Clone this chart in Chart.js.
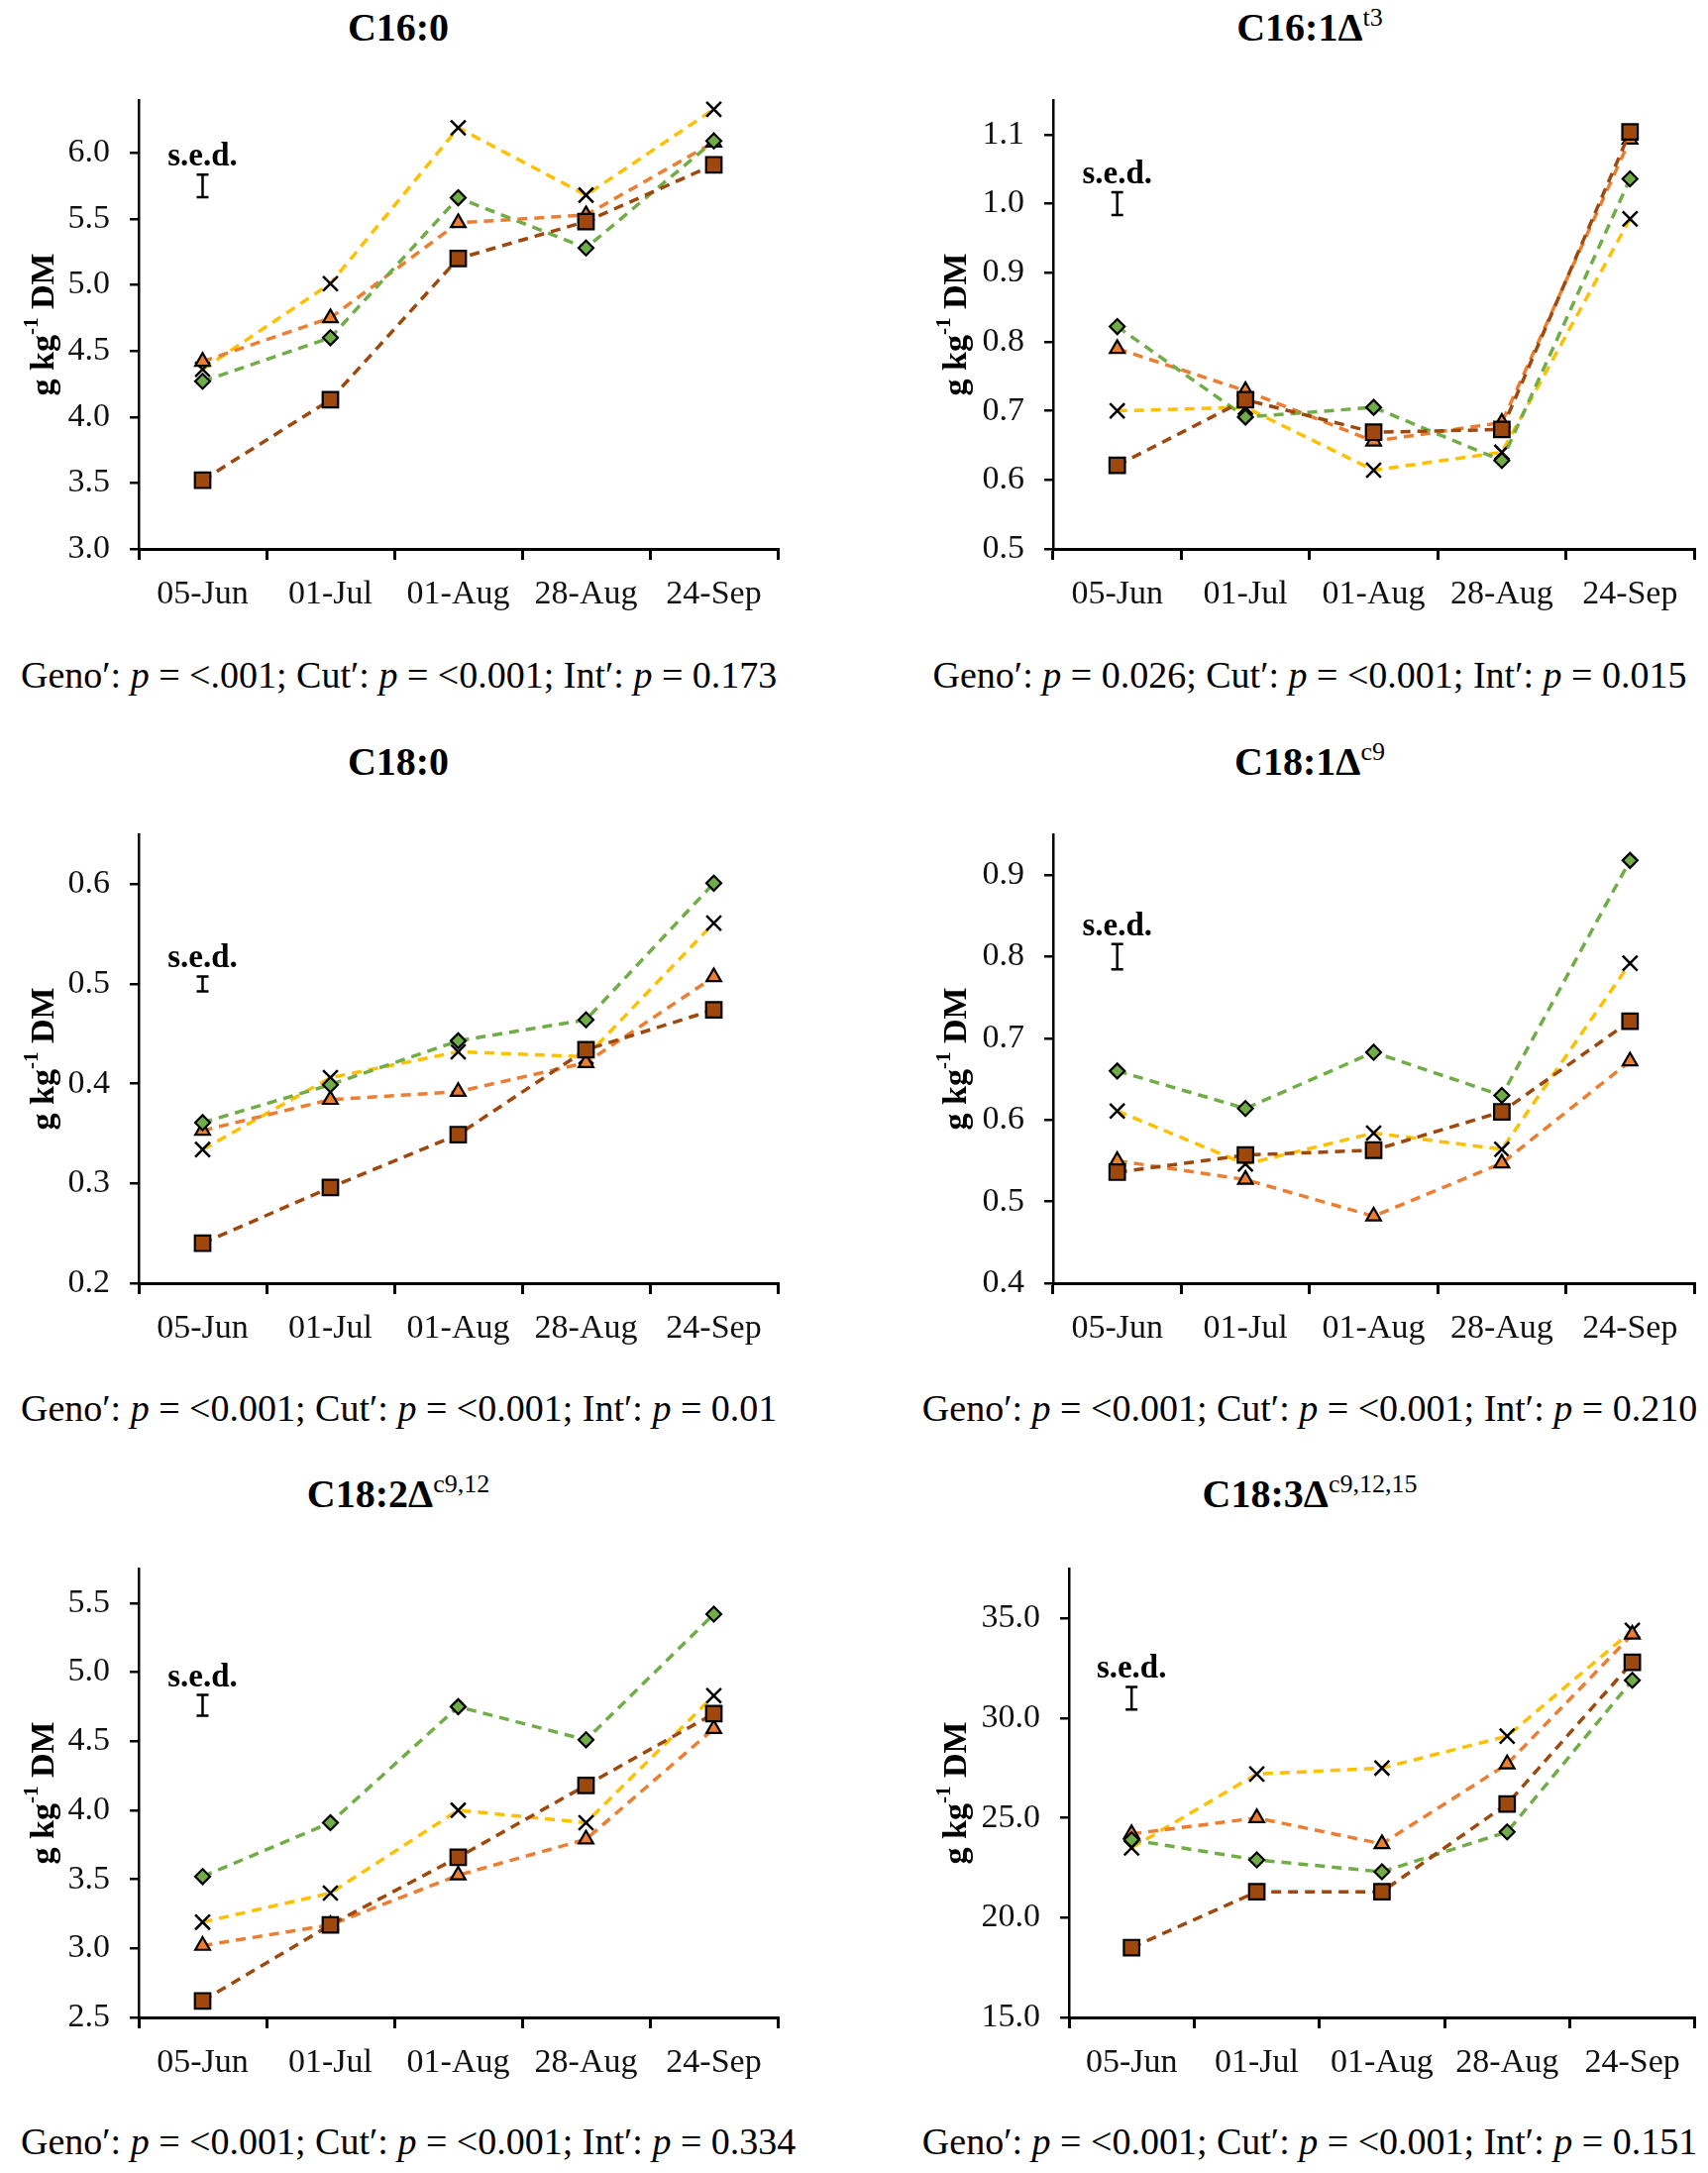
<!DOCTYPE html>
<html>
<head>
<meta charset="utf-8">
<script src="https://cdn.jsdelivr.net/npm/chart.js@4.4.1/dist/chart.umd.min.js"></script>
<style>
html,body{margin:0;padding:0;background:#fff;}
#page{position:relative;width:1724px;height:2193px;overflow:hidden;font-family:'Liberation Serif','Times New Roman',serif;color:#000;}
#page canvas{position:absolute;}
.ttl{position:absolute;transform:translate(-50%,-50%);font-weight:bold;font-size:40px;line-height:1;white-space:nowrap;}
.ttl sup{font-weight:normal;font-size:26px;vertical-align:0;position:relative;top:-15px;}
.stat{position:absolute;font-size:38px;line-height:1;white-space:nowrap;transform:translateY(-50%);}
.stat.ctr{transform:translate(-50%,-50%);}
</style>
</head>
<body>
<div id="page"></div>
<script>
const FONT = "'Liberation Serif','Times New Roman',serif";

// ---------- data ----------
const cuts = ['05-Jun', '01-Jul', '01-Aug', '28-Aug', '24-Sep'];

// C16:0
const c160_yellow = [4.36, 5.01, 6.19, 5.68, 6.33];
const c160_orange = [4.42, 4.75, 5.47, 5.53, 6.08];
const c160_green  = [4.27, 4.60, 5.66, 5.28, 6.09];
const c160_brown  = [3.52, 4.13, 5.20, 5.48, 5.91];

// C16:1 t3
const c161_yellow = [0.700, 0.705, 0.614, 0.640, 0.978];
const c161_orange = [0.790, 0.729, 0.656, 0.683, 1.093];
const c161_green  = [0.822, 0.691, 0.705, 0.628, 1.036];
const c161_brown  = [0.621, 0.716, 0.669, 0.673, 1.104];

// C18:0
const c180_yellow = [0.334, 0.406, 0.432, 0.427, 0.561];
const c180_orange = [0.353, 0.384, 0.392, 0.421, 0.507];
const c180_green  = [0.361, 0.399, 0.443, 0.464, 0.601];
const c180_brown  = [0.240, 0.296, 0.349, 0.434, 0.474];

// C18:1 c9
const c181_yellow = [0.611, 0.546, 0.584, 0.564, 0.792];
const c181_orange = [0.550, 0.527, 0.482, 0.547, 0.672];
const c181_green  = [0.660, 0.614, 0.683, 0.630, 0.918];
const c181_brown  = [0.536, 0.557, 0.563, 0.610, 0.721];

// C18:2 c9,12
const c182_yellow = [3.19, 3.40, 4.00, 3.91, 4.83];
const c182_orange = [3.02, 3.17, 3.53, 3.79, 4.59];
const c182_green  = [3.52, 3.91, 4.75, 4.51, 5.42];
const c182_brown  = [2.62, 3.17, 3.66, 4.18, 4.70];

// C18:3 c9,12,15
const c183_yellow = [23.5, 27.2, 27.5, 29.1, 34.4];
const c183_orange = [24.2, 25.0, 23.7, 27.7, 34.2];
const c183_green  = [23.9, 22.9, 22.3, 24.3, 31.9];
const c183_brown  = [18.5, 21.3, 21.3, 25.7, 32.8];

// axis ranges
const yMin  = [3.0, 0.5, 0.2, 0.4, 2.5, 15];
const yMax  = [6.4, 1.15, 0.65, 0.95, 5.75, 37.5];
const yStep = [0.5, 0.1, 0.1, 0.1, 0.5, 5];

// s.e.d. bars (centre, size)
const sedCenter = [5.75, 1.00, 0.50, 0.80, 4.76, 31.0];
const sedValue  = [0.17, 0.033, 0.015, 0.031, 0.15, 1.14];

// titles and statistics text
const titleMain = ['C16:0', 'C16:1Δ', 'C18:0', 'C18:1Δ', 'C18:2Δ', 'C18:3Δ'];
const titleSup  = ['', 't3', '', 'c9', 'c9,12', 'c9,12,15'];
const genoP = ['<.001', '0.026', '<0.001', '<0.001', '<0.001', '<0.001'];
const cutP  = ['<0.001', '<0.001', '<0.001', '<0.001', '<0.001', '<0.001'];
const intP  = ['0.173', '0.015', '0.01', '0.210', '0.334', '0.151'];
const yAxisTitle = ['g kg', '-1', ' DM'];

const seriesData = [
  [c160_yellow, c160_orange, c160_green, c160_brown],
  [c161_yellow, c161_orange, c161_green, c161_brown],
  [c180_yellow, c180_orange, c180_green, c180_brown],
  [c181_yellow, c181_orange, c181_green, c181_brown],
  [c182_yellow, c182_orange, c182_green, c182_brown],
  [c183_yellow, c183_orange, c183_green, c183_brown]
];

// ---------- layout ----------
const plotLeft  = [140, 1063, 140, 1063, 140, 1079];
const plotRight = [785, 1710, 785, 1710, 785, 1711];
const plotTop   = [101, 842, 1583];
const plotH = 453;
const titleY = [28, 769, 1508];
const statY  = [681, 1421, 2161];
const colCenter = [402, 1322];
const yTitleX = [45, 104];

const page = document.getElementById('page');

const annotPlugin = {
  id: 'annot',
  afterDraw(chart, args, o) {
    if (!o || o.sed == null) return;
    const ctx = chart.ctx, xs = chart.scales.x, ys = chart.scales.y;
    const cx = xs.getPixelForValue(0);
    const yt = ys.getPixelForValue(o.center + o.sed / 2);
    const yb = ys.getPixelForValue(o.center - o.sed / 2);
    ctx.save();
    ctx.strokeStyle = '#000';
    ctx.lineWidth = 2.5;
    ctx.beginPath();
    ctx.moveTo(cx, yt); ctx.lineTo(cx, yb);
    ctx.moveTo(cx - 6, yt); ctx.lineTo(cx + 6, yt);
    ctx.moveTo(cx - 6, yb); ctx.lineTo(cx + 6, yb);
    ctx.stroke();
    ctx.fillStyle = '#000';
    ctx.font = 'bold 33px ' + FONT;
    ctx.textAlign = 'center';
    ctx.textBaseline = 'alphabetic';
    ctx.fillText('s.e.d.', cx, yt - 9);
    // rotated y-axis title with superscript
    const midY = (chart.chartArea.top + chart.chartArea.bottom) / 2;
    ctx.translate(o.titleX, midY);
    ctx.rotate(-Math.PI / 2);
    const big = 'bold 34px ' + FONT, small = 'bold 21px ' + FONT;
    ctx.font = big;
    const w1 = ctx.measureText(yAxisTitle[0]).width;
    const w3 = ctx.measureText(yAxisTitle[2]).width;
    ctx.font = small;
    const w2 = ctx.measureText(yAxisTitle[1]).width;
    let x0 = -(w1 + w2 + w3) / 2;
    ctx.textAlign = 'left';
    ctx.textBaseline = 'middle';
    ctx.font = big; ctx.fillText(yAxisTitle[0], x0, 0); x0 += w1;
    ctx.font = small; ctx.fillText(yAxisTitle[1], x0, -12); x0 += w2;
    ctx.font = big; ctx.fillText(yAxisTitle[2], x0, 0);
    ctx.restore();
  }
};

function makeDatasets(d) {
  const base = {borderWidth: 3.5, borderDash: [10, 7], fill: false, tension: 0, clip: false};
  return [
    Object.assign({}, base, {label: 'Series 1', data: d[0], borderColor: '#FFC000',
      pointStyle: 'crossRot', pointRadius: 10.5, pointHoverRadius: 10.5,
      pointBorderColor: '#000', pointBackgroundColor: '#000', pointBorderWidth: 2.5, order: 4}),
    Object.assign({}, base, {label: 'Series 2', data: d[1], borderColor: '#ED7D31',
      pointStyle: 'triangle', pointRadius: 8.5, pointHoverRadius: 8.5,
      pointBorderColor: '#000', pointBackgroundColor: '#ED7D31', pointBorderWidth: 2.2, order: 3}),
    Object.assign({}, base, {label: 'Series 3', data: d[2], borderColor: '#70AD47',
      pointStyle: 'rectRot', pointRadius: 7.5, pointHoverRadius: 7.5,
      pointBorderColor: '#000', pointBackgroundColor: '#70AD47', pointBorderWidth: 2.2, order: 2}),
    Object.assign({}, base, {label: 'Series 4', data: d[3], borderColor: '#9E480E',
      pointStyle: 'rect', pointRadius: 11, pointHoverRadius: 11,
      pointBorderColor: '#000', pointBackgroundColor: '#9E480E', pointBorderWidth: 2.2, order: 1})
  ];
}

for (let i = 0; i < 6; i++) {
  const col = i % 2, row = Math.floor(i / 2);
  const colX = col * 862;
  const topPad = 50, xH = 84;
  const cv = document.createElement('canvas');
  const W = 862, H = topPad + plotH + xH;
  cv.width = W; cv.height = H;
  cv.style.left = colX + 'px';
  cv.style.top = (plotTop[row] - topPad) + 'px';
  cv.style.width = W + 'px'; cv.style.height = H + 'px';
  page.appendChild(cv);

  const yW = plotLeft[i] - colX;
  const rightPad = colX + W - plotRight[i];

  new Chart(cv.getContext('2d'), {
    type: 'line',
    data: {labels: cuts, datasets: makeDatasets(seriesData[i])},
    options: {
      responsive: false,
      animation: false,
      devicePixelRatio: 1,
      layout: {padding: {top: topPad, right: rightPad, left: 0, bottom: 0}},
      plugins: {
        legend: {display: false},
        tooltip: {enabled: false},
        annot: {center: sedCenter[i], sed: sedValue[i], titleX: yTitleX[col]}
      },
      scales: {
        x: {
          type: 'category',
          offset: true,
          grid: {offset: true, drawOnChartArea: false, drawTicks: true, tickLength: 11, color: '#000', lineWidth: 3},
          border: {display: true, color: '#000', width: 3},
          ticks: {color: '#111', font: {family: FONT, size: 34}, padding: 15, maxRotation: 0, autoSkip: false},
          afterFit(s) { s.height = xH; }
        },
        y: {
          min: yMin[i], max: yMax[i],
          grid: {drawOnChartArea: false, drawTicks: true, tickLength: 9, color: '#000', lineWidth: 2.5},
          border: {display: true, color: '#000', width: 2.5},
          ticks: {stepSize: yStep[i], includeBounds: false, color: '#111',
            font: {family: FONT, size: 34}, padding: 20,
            callback: v => Number(v).toFixed(1)},
          afterFit(s) { s.width = yW; }
        }
      }
    },
    plugins: [annotPlugin]
  });

  // title
  const t = document.createElement('div');
  t.className = 'ttl';
  t.style.left = colCenter[col] + 'px';
  t.style.top = titleY[row] + 'px';
  t.appendChild(document.createTextNode(titleMain[i]));
  if (titleSup[i]) {
    const s = document.createElement('sup');
    s.textContent = titleSup[i];
    t.appendChild(s);
  }
  page.appendChild(t);

  // statistics line
  const st = document.createElement('div');
  st.className = 'stat' + (col === 1 ? ' ctr' : '');
  st.style.left = (col === 1 ? colCenter[1] : 21) + 'px';
  st.style.top = statY[row] + 'px';
  const esc = s => s.replace(/</g, '&lt;');
  st.innerHTML = 'Geno′: <i>p</i> = ' + esc(genoP[i]) + '; Cut′: <i>p</i> = ' + esc(cutP[i]) +
                 '; Int′: <i>p</i> = ' + esc(intP[i]);
  page.appendChild(st);
}
</script>
</body>
</html>
